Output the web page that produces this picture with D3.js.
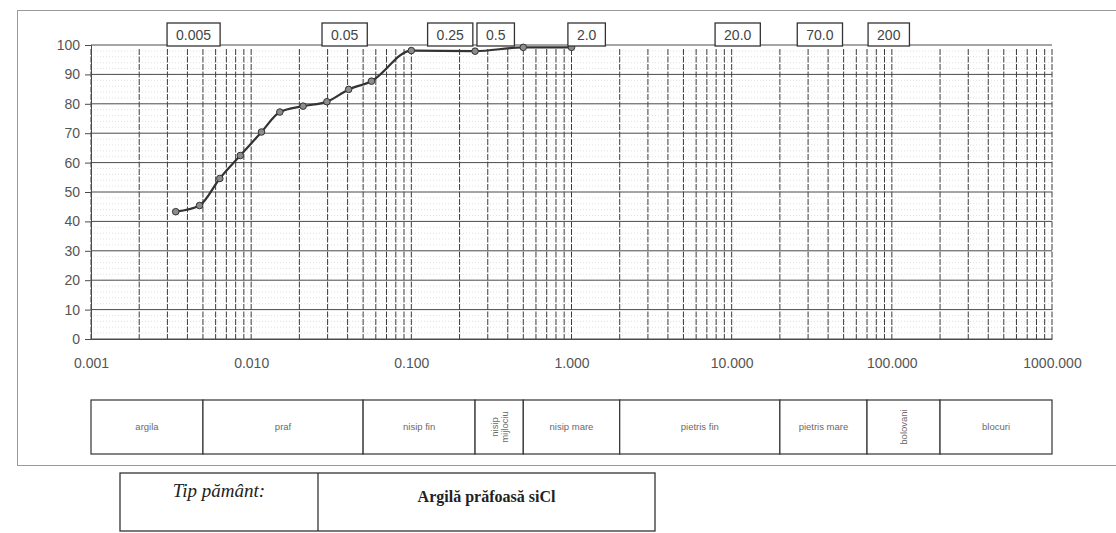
<!DOCTYPE html>
<html><head><meta charset="utf-8">
<script src="https://cdn.jsdelivr.net/npm/d3@7/dist/d3.min.js"></script>
<style>
body{margin:0;background:#fff;}
svg{display:block;font-family:"Liberation Sans",Arial,sans-serif;}
</style>
</head><body>
<svg id="c" width="1116" height="533"></svg>
<script>
// ---- data ----
const grainSize = [0.00338, 0.00476, 0.00637, 0.00855, 0.0116, 0.0151, 0.0211, 0.0297, 0.0406, 0.0564, 0.1, 0.25, 0.5, 1.0];
const passing   = [43.3, 45.4, 54.6, 62.4, 70.4, 77.2, 79.2, 80.7, 84.9, 87.7, 98.1, 97.9, 99.2, 99.2];
const yTickValues = [0, 10, 20, 30, 40, 50, 60, 70, 80, 90, 100];
const xTickValues = [0.001, 0.01, 0.1, 1, 10, 100, 1000];
const boundaryValues = [0.005, 0.05, 0.25, 0.5, 2, 20, 70, 200];
const boundaryLabels = ["0.005", "0.05", "0.25", "0.5", "2.0", "20.0", "70.0", "200"];
const fractionLimits = [0.001, 0.005, 0.05, 0.25, 0.5, 2, 20, 70, 200, 1000];
const fractionNames = ["argila", "praf", "nisip fin", "nisip mijlociu", "nisip mare", "pietris fin", "pietris mare", "bolovani", "blocuri"];
const soilTypeLabel = "Tip pământ:";
const soilTypeValue = "Argilă prăfoasă siCl";

// ---- layout ----
const svg = d3.select("#c");
const M = {left: 91, right: 1052, top: 45, bottom: 339};
const x = d3.scaleLog().domain([0.001, 1000]).range([M.left, M.right]);
const y = d3.scaleLinear().domain([0, 100]).range([M.bottom, M.top]);
// annotation boxes were placed on a slightly compressed copy of the axis
const xBox = x.copy().range([M.left - 3, M.left + 0.94 * (M.right - M.left)]);
const serif = "'Liberation Serif','Times New Roman',serif";

// outer frame
svg.append("rect").attr("x", 17.5).attr("y", 10.5).attr("width", 1130).attr("height", 455)
  .attr("fill", "none").attr("stroke", "#9a9a9a").attr("stroke-width", 1);

// faint minor horizontal lines
const gMinor = svg.append("g");
d3.range(0, 100, 2).filter(v => v % 10 !== 0).forEach(v => {
  gMinor.append("line").attr("x1", M.left).attr("x2", M.right)
    .attr("y1", y(v)).attr("y2", y(v))
    .attr("stroke", "#d9d9d9").attr("stroke-width", 0.8).attr("stroke-dasharray", "1,2");
});

// vertical log gridlines
const gGrid = svg.append("g");
x.ticks().forEach(v => {
  gGrid.append("line").attr("x1", x(v)).attr("x2", x(v))
    .attr("y1", M.top + 4).attr("y2", M.bottom)
    .attr("stroke", "#3c3c3c").attr("stroke-width", 1).attr("stroke-dasharray", "6,1.5");
});
// horizontal major gridlines
yTickValues.forEach(v => {
  gGrid.append("line").attr("x1", M.left).attr("x2", M.right)
    .attr("y1", y(v)).attr("y2", y(v))
    .attr("stroke", "#4a4a4a").attr("stroke-width", 1);
});

// y axis
const yAxis = svg.append("g").attr("transform", `translate(${M.left},0)`)
  .call(d3.axisLeft(y).tickValues(yTickValues).tickSize(6).tickPadding(5).tickFormat(d3.format("d")));
yAxis.select(".domain").attr("stroke", "#4a4a4a");
yAxis.selectAll(".tick line").attr("stroke", "#4a4a4a");
yAxis.selectAll("text").attr("font-size", 14).attr("fill", "#555");

// x axis labels
const xAxis = svg.append("g").attr("transform", `translate(0,${M.bottom})`)
  .call(d3.axisBottom(x).tickValues(xTickValues).tickSize(0).tickPadding(19).tickFormat(d3.format(".3f")));
xAxis.select(".domain").attr("stroke", "#4a4a4a");
xAxis.selectAll("text").attr("font-size", 14).attr("fill", "#555");

// curve
const pts = grainSize.map((d, i) => [d, passing[i]]);
svg.append("path").datum(pts)
  .attr("d", d3.line().x(d => x(d[0])).y(d => y(d[1])).curve(d3.curveMonotoneX))
  .attr("fill", "none").attr("stroke", "#333").attr("stroke-width", 2.2);
svg.append("g").selectAll("circle").data(pts).join("circle")
  .attr("cx", d => x(d[0])).attr("cy", d => y(d[1])).attr("r", 3.3)
  .attr("fill", "#8c8c8c").attr("stroke", "#333").attr("stroke-width", 1);

// boundary boxes at top
const gBox = svg.append("g");
boundaryValues.forEach((v, i) => {
  const g = gBox.append("g");
  const t = g.append("text").attr("x", xBox(v)).attr("y", 40)
    .attr("text-anchor", "middle").attr("font-size", 14).attr("fill", "#444").text(boundaryLabels[i]);
  const w = t.node().getComputedTextLength() + 18;
  g.insert("rect", "text").attr("x", xBox(v) - w / 2).attr("y", 23).attr("width", w).attr("height", 23)
    .attr("fill", "#fff").attr("stroke", "#333").attr("stroke-width", 1.3);
});

// fraction table
const tTop = 400, tBot = 454, tMid = (tTop + tBot) / 2;
const gTab = svg.append("g");
fractionNames.forEach((name, i) => {
  const x0 = x(fractionLimits[i]), x1 = x(fractionLimits[i + 1]);
  gTab.append("rect").attr("x", x0).attr("y", tTop).attr("width", x1 - x0).attr("height", tBot - tTop)
    .attr("fill", "#fff").attr("stroke", "#333").attr("stroke-width", 1.2);
  const cx = (x0 + x1) / 2;
  if (x1 - x0 < 75) {
    const words = name.split(" ");
    const t = gTab.append("text").attr("transform", `translate(${cx},${tMid}) rotate(-90)`)
      .attr("text-anchor", "middle").attr("font-size", 9.5).attr("fill", "#6a6a6a");
    words.forEach((w, k) => {
      t.append("tspan").attr("x", 0).attr("y", (k - (words.length - 1) / 2) * 10 + 3.5).text(w);
    });
  } else {
    gTab.append("text").attr("x", cx).attr("y", tMid + 3)
      .attr("text-anchor", "middle").attr("font-size", 9.5).attr("fill", "#6a6a6a").text(name);
  }
});

// soil type box
const sb = {x0: 120, xm: 318, x1: 655, y0: 473, y1: 531};
const gS = svg.append("g");
gS.append("rect").attr("x", sb.x0).attr("y", sb.y0).attr("width", sb.x1 - sb.x0).attr("height", sb.y1 - sb.y0)
  .attr("fill", "#fff").attr("stroke", "#333").attr("stroke-width", 1.3);
gS.append("line").attr("x1", sb.xm).attr("x2", sb.xm).attr("y1", sb.y0).attr("y2", sb.y1)
  .attr("stroke", "#333").attr("stroke-width", 1.3);
gS.append("text").attr("x", (sb.x0 + sb.xm) / 2).attr("y", 497)
  .attr("text-anchor", "middle").attr("font-size", 19).style("font-style", "italic")
  .style("font-family", serif).attr("fill", "#222").text(soilTypeLabel);
gS.append("text").attr("x", (sb.xm + sb.x1) / 2).attr("y", 502)
  .attr("text-anchor", "middle").attr("font-size", 16).style("font-weight", "bold")
  .style("font-family", serif).attr("fill", "#222").text(soilTypeValue);
</script>
</body></html>
